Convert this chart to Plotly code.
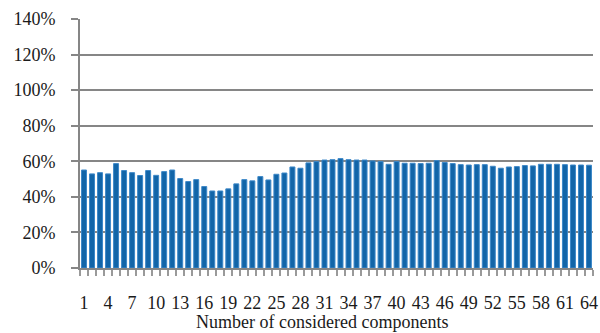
import plotly.graph_objects as go

components = list(range(1, 65))
accuracy = [55.1, 52.9, 53.6, 52.9, 58.7, 54.8, 53.6, 52.0, 54.8, 52.1,
            54.2, 55.1, 50.3, 48.6, 49.7, 45.8, 43.3, 43.3, 44.5, 47.3,
            49.7, 49.0, 51.4, 49.5, 52.7, 53.4, 56.8, 56.1, 59.1, 59.8,
            60.7, 60.9, 61.5, 60.9, 60.7, 60.7, 60.2, 59.8, 58.3, 59.8,
            58.9, 58.9, 58.7, 58.9, 60.4, 59.3, 58.7, 58.1, 57.9, 58.1,
            58.1, 57.2, 56.1, 56.8, 57.0, 57.6, 57.4, 58.3, 58.3, 58.3,
            58.1, 57.9, 57.9, 57.8]
x_ticks = list(range(1, 65, 3))
y_ticks = [0, 20, 40, 60, 80, 100, 120, 140]
y_labels = [f"{v}%" for v in y_ticks]
x_title = "Number of considered components"

font = dict(family="Liberation Serif, DejaVu Serif, serif", size=18, color="#1a1a1a")
grey = "#868686"

fig = go.Figure(go.Bar(
    x=components, y=accuracy,
    marker=dict(color="#1265a8", line=dict(color="#3d88c8", width=1)),
    width=0.62,
))

fig.update_layout(
    width=600, height=333,
    margin=dict(l=80, r=7, t=19, b=65),
    plot_bgcolor="white", paper_bgcolor="white",
    font=font, showlegend=False,
    xaxis=dict(
        range=[0.5, 64.5], tickmode="array", tickvals=x_ticks,
        ticktext=[str(v) for v in x_ticks],
        ticks="", showgrid=False, zeroline=False,
        showline=True, linecolor=grey, linewidth=2,
        ticklabelstandoff=17, automargin=False,
        tickfont=font,
        minor=dict(tick0=0.5, dtick=1, ticks="outside", ticklen=6,
                   tickwidth=1.5, tickcolor="#9a9a9a", showgrid=False),
    ),
    yaxis=dict(
        range=[0, 140], tickmode="array", tickvals=y_ticks, ticktext=y_labels,
        showgrid=True, gridcolor=grey, gridwidth=2,
        ticks="outside", ticklen=7, tickwidth=2, tickcolor=grey,
        showline=True, linecolor=grey, linewidth=2, automargin=False,
        zeroline=False, ticklabelstandoff=12, tickfont=font,
    ),
    annotations=[dict(text=x_title, xref="paper", yref="paper",
                      x=0.472, y=0, yshift=-54, showarrow=False,
                      xanchor="center", yanchor="middle", font=font)],
)

fig.write_html("out.html", config={"displayModeBar": False},
               post_script="document.body.style.margin='0';")
